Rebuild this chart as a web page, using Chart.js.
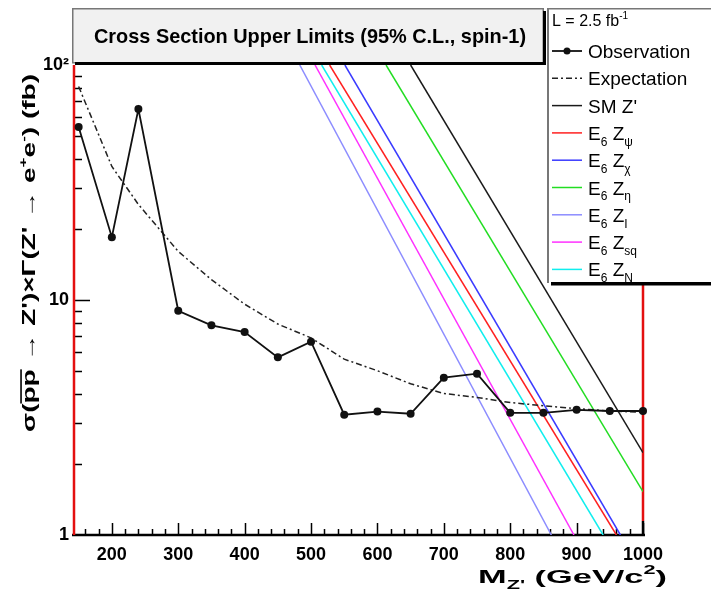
<!DOCTYPE html>
<html>
<head>
<meta charset="utf-8">
<script src="https://cdn.jsdelivr.net/npm/chart.js@4.4.1/dist/chart.umd.min.js"></script>
<style>
html, body { margin: 0; padding: 0; background: #fff; }
canvas { display: block; }
</style>
</head>
<body>
<canvas id="limits" width="711" height="590"></canvas>
<script>
// Z' mass points (GeV/c^2) and the 95% C.L. limits on sigma x BR (fb)
const masses = [150, 200, 240, 300, 350, 400, 450, 500, 550, 600, 650, 700, 750, 800, 850, 900, 950, 1000];
const observed = [54.5, 18.5, 65, 9.0, 7.8, 7.3, 5.7, 6.65, 3.25, 3.35, 3.28, 4.67, 4.86, 3.31, 3.31, 3.41, 3.37, 3.37];
const expected = [81, 37, 25.5, 16.1, 12.2, 9.6, 7.9, 6.9, 5.6, 5.0, 4.4, 4.0, 3.85, 3.66, 3.55, 3.45, 3.37, 3.33];

// model predictions: where each curve enters and leaves the frame
const smMass = [650, 1000],  smXsec = [100, 2.24];
const psiMass = [528, 960],  psiXsec = [100, 1];
const chiMass = [551, 966],  chiXsec = [100, 1];
const etaMass = [613, 1000], etaXsec = [100, 1.53];
const iMass = [483, 862],    iXsec = [100, 1];
const sqMass = [506, 896],   sqXsec = [100, 1];
const nMass = [516, 940],    nXsec = [100, 1];

const xTicks = [200, 300, 400, 500, 600, 700, 800, 900, 1000];
const yTicks = [1, 10, 100];
const yTickLabels = ['1', '10', '10²'];

const titleText = 'Cross Section Upper Limits (95% C.L., spin-1)';
const lumiText = 'L = 2.5 fb^{-1}';
const xTitle = "M_{Z'} (GeV/c^2)";
const yTitle = "σ(~{pp} → Z')×Γ(Z' → e^+e^-) (fb)";

const FONT = '"Liberation Sans Narrow", "Liberation Sans", Arial, sans-serif';

function pairs(xs, ys) {
    return xs.map((x, i) => ({x, y: ys[i]}));
}

function model(label, color, xs, ys) {
    return {
        label,
        data: pairs(xs, ys),
        borderColor: color,
        borderWidth: 1.5,
        pointRadius: 0,
        clip: 0,
    };
}

// tiny markup: _x / _{..} subscript, ^x / ^{..} superscript, ~{..} overline
function parseRich(str) {
    const parts = [];
    const re = /([_^~])\{([^}]*)\}|([_^~])(.)|([^_^~]+)/g;
    let m;
    while ((m = re.exec(str))) {
        if (m[1]) parts.push([m[2], m[1]]);
        else if (m[3]) parts.push([m[4], m[3]]);
        else parts.push([m[5], '']);
    }
    return parts;
}

function richText(ctx, str, x, y, size, weight, width) {
    const parts = parseRich(str);
    const fontFor = mode => `${weight} ${(mode === '_' || mode === '^') ? Math.round(size * 0.62) : size}px ${FONT}`;
    let total = 0;
    for (const [t, mode] of parts) {
        ctx.font = fontFor(mode);
        total += ctx.measureText(t).width;
    }
    const sx = width ? width / total : 1;
    ctx.save();
    ctx.translate(x, y);
    ctx.scale(sx, 1);
    ctx.textAlign = 'left';
    ctx.textBaseline = 'alphabetic';
    ctx.fillStyle = '#000';
    let cx = 0;
    for (const [t, mode] of parts) {
        ctx.font = fontFor(mode);
        const dy = mode === '_' ? size * 0.3 : mode === '^' ? -size * 0.45 : 0;
        ctx.fillText(t, cx, dy);
        const w = ctx.measureText(t).width;
        if (mode === '~') ctx.fillRect(cx, -size * 0.82, w, 1.6);
        cx += w;
    }
    ctx.restore();
}

// ROOT-like frame: inward ticks, red side axes
const frame = {
    id: 'frame',
    beforeDatasetsDraw(chart) {
        const {ctx, chartArea: {left, right, top, bottom}, scales: {x, y}} = chart;
        ctx.save();
        ctx.strokeStyle = '#000';
        ctx.lineWidth = 1.5;
        ctx.beginPath();
        for (let m = 160; m <= 1000; m += 20) {
            const px = Math.round(x.getPixelForValue(m)) + 0.5;
            const len = m % 100 === 0 ? 12 : 6;
            ctx.moveTo(px, bottom);
            ctx.lineTo(px, bottom - len);
        }
        for (const d of [1, 10]) {
            for (let k = 1; k <= 9; k++) {
                const v = d * k;
                if (v === 1) continue;
                const py = Math.round(y.getPixelForValue(v)) + 0.5;
                ctx.moveTo(left, py);
                ctx.lineTo(left + (k === 1 ? 16 : 8), py);
            }
        }
        ctx.stroke();

        ctx.lineWidth = 2.5;
        ctx.beginPath();
        ctx.moveTo(left - 2, bottom);
        ctx.lineTo(right + 2, bottom);
        ctx.stroke();
        ctx.beginPath();
        ctx.moveTo(right, bottom);
        ctx.lineTo(right, bottom - 14);
        ctx.stroke();

        ctx.strokeStyle = '#e41010';
        ctx.lineWidth = 2.5;
        ctx.beginPath();
        ctx.moveTo(left, top);
        ctx.lineTo(left, bottom);
        ctx.moveTo(right, top);
        ctx.lineTo(right, bottom - 14);
        ctx.stroke();
        ctx.restore();
    },
    afterDraw(chart) {
        const {ctx} = chart;
        ctx.save();

        // title pave
        ctx.fillStyle = '#f1f1f1';
        ctx.fillRect(72, 8, 472, 55);
        ctx.strokeStyle = '#777';
        ctx.lineWidth = 1.5;
        ctx.strokeRect(72.75, 8.75, 470.5, 54);
        ctx.fillStyle = '#000';
        ctx.fillRect(75, 62, 471, 3);
        ctx.fillRect(543, 11, 3, 54);
        richText(ctx, titleText, 94, 43, 21, 'bold', 432);

        // legend pave
        ctx.fillStyle = '#fff';
        ctx.fillRect(547, 8, 164, 275);
        ctx.fillStyle = '#777';
        ctx.fillRect(547, 8, 164, 1.5);
        ctx.fillRect(547, 8, 2, 275);
        ctx.fillStyle = '#000';
        ctx.fillRect(551, 282, 160, 3.5);
        richText(ctx, lumiText, 552, 26, 16, 'normal');

        chart.data.datasets.forEach((ds, i) => {
            const ry = 51 + i * 27.3;
            ctx.save();
            ctx.strokeStyle = ds.borderColor;
            ctx.lineWidth = ds.borderWidth;
            ctx.setLineDash(ds.borderDash || []);
            ctx.beginPath();
            ctx.moveTo(552, ry);
            ctx.lineTo(582, ry);
            ctx.stroke();
            if (ds.pointRadius) {
                ctx.fillStyle = ds.borderColor;
                ctx.beginPath();
                ctx.arc(567, ry, 3.5, 0, Math.PI * 2);
                ctx.fill();
            }
            ctx.restore();
            richText(ctx, ds.label, 588, ry + 7, 19, 'normal');
        });

        // axis titles
        richText(ctx, xTitle, 478, 583, 19, 'bold', 189);
        ctx.save();
        ctx.translate(35, 432);
        ctx.rotate(-Math.PI / 2);
        richText(ctx, yTitle, 0, 0, 18, 'bold', 358);
        ctx.restore();

        ctx.restore();
    }
};

const tickFont = {family: FONT, size: 18, weight: 'bold'};

new Chart(document.getElementById('limits'), {
    type: 'line',
    data: {
        datasets: [
            {
                label: 'Observation',
                data: pairs(masses, observed),
                borderColor: '#111',
                backgroundColor: '#111',
                borderWidth: 1.8,
                pointRadius: 4,
                pointBackgroundColor: '#111',
                pointBorderWidth: 0,
                clip: 6,
            },
            {
                label: 'Expectation',
                data: pairs(masses, expected),
                borderColor: '#222',
                borderWidth: 1.5,
                borderDash: [6, 3, 2, 3],
                pointRadius: 0,
                clip: 0,
            },
            model("SM Z'", '#1a1a1a', smMass, smXsec),
            model('E_6 Z_ψ', '#ff2020', psiMass, psiXsec),
            model('E_6 Z_χ', '#3a3aff', chiMass, chiXsec),
            model('E_6 Z_η', '#22dd22', etaMass, etaXsec),
            model('E_6 Z_I', '#8c8cff', iMass, iXsec),
            model('E_6 Z_{sq}', '#ff30ff', sqMass, sqXsec),
            model('E_6 Z_N', '#10eeee', nMass, nXsec),
        ]
    },
    options: {
        responsive: false,
        animation: false,
        devicePixelRatio: 1,
        layout: {padding: {top: 65, right: 68, left: 0, bottom: 0}},
        plugins: {
            legend: {display: false},
            tooltip: {enabled: false},
        },
        scales: {
            x: {
                type: 'linear',
                min: 143,
                max: 1000,
                afterBuildTicks: s => { s.ticks = xTicks.map(v => ({value: v})); },
                afterFit: s => { s.height = 55; },
                grid: {display: false, drawTicks: false},
                border: {display: false},
                ticks: {font: tickFont, color: '#000', padding: 9, maxRotation: 0, autoSkip: false, callback: v => String(v)},
            },
            y: {
                type: 'logarithmic',
                min: 1,
                max: 100,
                afterBuildTicks: s => { s.ticks = yTicks.map(v => ({value: v})); },
                afterFit: s => { s.width = 74; },
                grid: {display: false, drawTicks: false},
                border: {display: false},
                ticks: {font: tickFont, color: '#000', padding: 5, autoSkip: false, callback: (v, i) => yTickLabels[i]},
            }
        }
    },
    plugins: [frame]
});
</script>
</body>
</html>
